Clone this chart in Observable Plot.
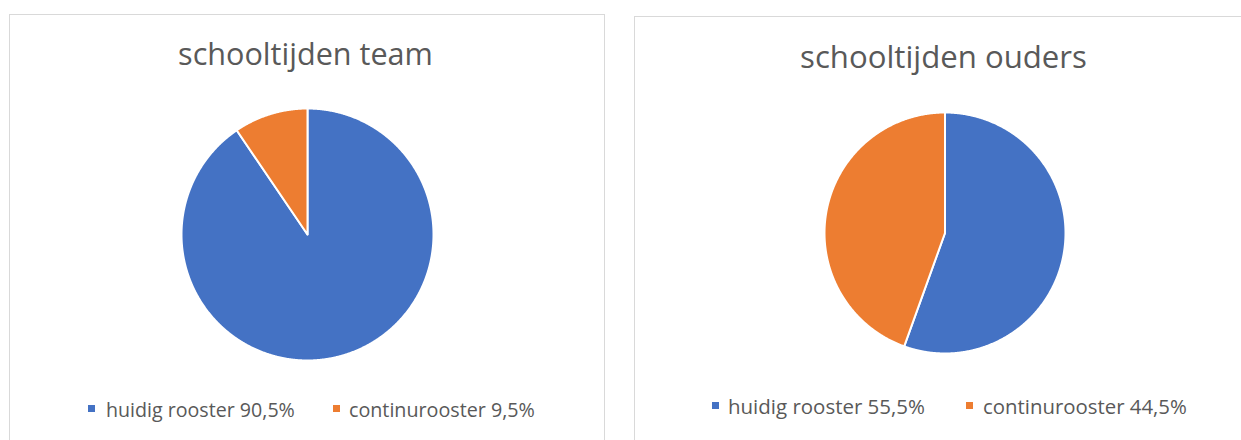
<!DOCTYPE html>
<html><head><meta charset="utf-8">
<script src="https://cdn.jsdelivr.net/npm/d3@7"></script>
<script src="https://cdn.jsdelivr.net/npm/@observablehq/plot@0.6"></script>
<style>
html,body{margin:0;padding:0}
body{width:1241px;height:440px;overflow:hidden;background:#fff;position:relative;font-family:"Open Sans","Noto Sans",sans-serif;color:#595959}
.panel{position:absolute;border:1px solid #d9d9d9;box-sizing:border-box;background:#fff}
.txt{position:absolute;white-space:nowrap;line-height:1.2;color:#595959}
.sw{position:absolute;width:7px;height:7px}
.pie{position:absolute}
.bl{display:inline-block;width:0;height:0}
</style></head>
<body>
<script>
// ---- data ----
const categories = ["huidig rooster", "continurooster"];
const teamValues = [90.5, 9.5];
const oudersValues = [55.5, 44.5];
const titles = ["schooltijden team", "schooltijden ouders"];
const legendLabels = [
  ["huidig rooster 90,5%", "continurooster 9,5%"],
  ["huidig rooster 55,5%", "continurooster 44,5%"]
];
const colors = ["#4472C4", "#ED7D31"];

// ---- layout ----
const panels = [
  {left: 9, top: 14, width: 596, height: 440, cx: 307, cy: 233.5, r: 126,
   title: {cx: 305.5, base: 65, w: 255},
   legend: [{mx: 88, my: 405, tx: 106, base: 417, w: 189}, {mx: 333, my: 405, tx: 349, base: 417, w: 186}],
   values: teamValues},
  {left: 634, top: 16, width: 640, height: 440, cx: 944, cy: 232.5, r: 120.5,
   title: {cx: 943.5, base: 68, w: 287},
   legend: [{mx: 712, my: 402, tx: 728, base: 414, w: 197}, {mx: 966, my: 402, tx: 983, base: 414, w: 204}],
   values: oudersValues}
];

function addText(str, size, leftOrCenter, base, targetW, center) {
  const d = document.createElement("div");
  d.className = "txt";
  d.style.fontSize = size + "px";
  d.textContent = str;
  const b = document.createElement("span"); b.className = "bl"; d.appendChild(b);
  document.body.appendChild(d);
  let w = d.getBoundingClientRect().width;
  const fs = size * targetW / w;
  d.style.fontSize = fs + "px";
  w = d.getBoundingClientRect().width;
  d.style.left = (center ? leftOrCenter - w / 2 : leftOrCenter) + "px";
  d.style.top = "0px";
  const by = b.getBoundingClientRect().top;
  d.style.top = (base - by) + "px";
}

function slicePoints(values) {
  const arcs = d3.pie().sort(null)(values);
  const pts = [];
  arcs.forEach((a, i) => {
    const cat = categories[i];
    pts.push({cat, x: 0, y: 0});
    const n = Math.max(2, Math.ceil((a.endAngle - a.startAngle) / 0.005));
    for (let k = 0; k <= n; k++) {
      const t = a.startAngle + (a.endAngle - a.startAngle) * k / n;
      pts.push({cat, x: Math.sin(t), y: Math.cos(t)});
    }
    pts.push({cat, x: 0, y: 0});
  });
  return pts;
}

panels.forEach((p, pi) => {
  const box = document.createElement("div");
  box.className = "panel";
  Object.assign(box.style, {left: p.left + "px", top: p.top + "px", width: p.width + "px", height: p.height + "px"});
  document.body.appendChild(box);

  const m = 3;
  const size = 2 * p.r + 2 * m;
  const svg = Plot.plot({
    width: size, height: size,
    margin: m,
    x: {domain: [-1, 1], axis: null},
    y: {domain: [-1, 1], axis: null},
    color: {domain: categories, range: colors},
    style: {background: "transparent", overflow: "visible"},
    marks: [
      Plot.line(slicePoints(p.values), {x: "x", y: "y", z: "cat", fill: "cat", stroke: "white", strokeWidth: 2, strokeLinejoin: "round"})
    ]
  });
  const holder = document.createElement("div");
  holder.className = "pie";
  holder.style.left = (p.cx - size / 2) + "px";
  holder.style.top = (p.cy - size / 2) + "px";
  holder.appendChild(svg);
  document.body.appendChild(holder);

  addText(titles[pi], 25, p.title.cx, p.title.base, p.title.w, true);

  p.legend.forEach((l, li) => {
    const s = document.createElement("div");
    s.className = "sw";
    s.style.left = l.mx + "px"; s.style.top = l.my + "px"; s.style.background = colors[li];
    document.body.appendChild(s);
    addText(legendLabels[pi][li], 17, l.tx, l.base, l.w, false);
  });
});
</script>
</body></html>
